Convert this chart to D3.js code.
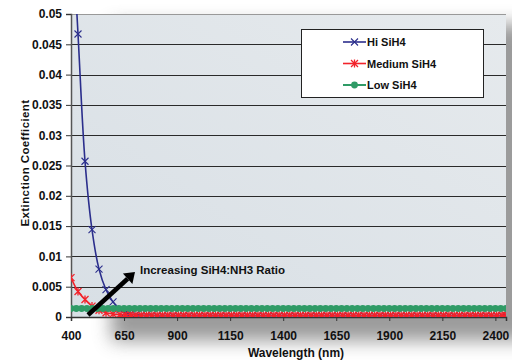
<!DOCTYPE html>
<html>
<head>
<meta charset="utf-8">
<script src="https://cdn.jsdelivr.net/npm/d3@7"></script>
<style>
  body { margin: 0; background: #fff; }
  text { font-family: "Liberation Sans", Arial, sans-serif; font-weight: bold; fill: #111; }
</style>
</head>
<body>
<svg id="chart" width="512" height="360"></svg>
<script>
// Hi and Medium share one wavelength grid, Low is sampled more evenly
const wlHiMed = [400, 433, 466, 499, 532, 565, 598, 631, 656, 681,
  706, 731, 756, 781, 806, 831, 856, 881, 906, 931,
  956, 981, 1006, 1031, 1056, 1081, 1106, 1131, 1156, 1181,
  1206, 1231, 1256, 1281, 1306, 1331, 1356, 1381, 1406, 1431,
  1456, 1481, 1506, 1531, 1556, 1581, 1606, 1631, 1656, 1681,
  1706, 1731, 1756, 1781, 1806, 1831, 1856, 1881, 1906, 1931,
  1956, 1981, 2006, 2031, 2056, 2081, 2106, 2131, 2156, 2181,
  2206, 2231, 2256, 2281, 2306, 2331, 2356, 2381, 2406, 2431, 2450]

const hiSiH4 = [0.068, 0.0467, 0.0257, 0.0144, 0.0079, 0.0045, 0.0025, 0.0012, 0.0007, 0.0005,
  0.0004, 0.0003, 0.0003, 0.0003, 0.0002, 0.0002, 0.0002, 0.0002, 0.0002, 0.0002,
  0.0002, 0.0002, 0.0002, 0.0002, 0.0002, 0.0002, 0.0002, 0.0002, 0.0002, 0.0002,
  0.0002, 0.0002, 0.0002, 0.0002, 0.0002, 0.0002, 0.0002, 0.0002, 0.0002, 0.0002,
  0.0002, 0.0002, 0.0002, 0.0002, 0.0002, 0.0002, 0.0002, 0.0002, 0.0002, 0.0002,
  0.0002, 0.0002, 0.0002, 0.0002, 0.0002, 0.0002, 0.0002, 0.0002, 0.0002, 0.0002,
  0.0002, 0.0002, 0.0002, 0.0002, 0.0002, 0.0002, 0.0002, 0.0002, 0.0002, 0.0002,
  0.0002, 0.0002, 0.0002, 0.0002, 0.0002, 0.0002, 0.0002, 0.0002, 0.0002, 0.0002, 0.0002]

const medSiH4 = [0.0065, 0.0042, 0.0029, 0.0018, 0.0011, 0.0007, 0.0005, 0.0004, 0.0004, 0.0004,
  0.0003, 0.0003, 0.0003, 0.0003, 0.0003, 0.0003, 0.0003, 0.0003, 0.0003, 0.0003,
  0.0003, 0.0003, 0.0003, 0.0003, 0.0003, 0.0003, 0.0003, 0.0003, 0.0003, 0.0003,
  0.0003, 0.0003, 0.0003, 0.0003, 0.0003, 0.0003, 0.0003, 0.0003, 0.0003, 0.0003,
  0.0003, 0.0003, 0.0003, 0.0003, 0.0003, 0.0003, 0.0003, 0.0003, 0.0003, 0.0003,
  0.0003, 0.0003, 0.0003, 0.0003, 0.0003, 0.0003, 0.0003, 0.0003, 0.0003, 0.0003,
  0.0003, 0.0003, 0.0003, 0.0003, 0.0003, 0.0003, 0.0003, 0.0003, 0.0003, 0.0003,
  0.0003, 0.0003, 0.0003, 0.0003, 0.0003, 0.0003, 0.0003, 0.0003, 0.0003, 0.0003, 0.0003]

const wlLow = [400, 425, 450, 475, 500, 525, 550, 575, 600, 625,
  650, 675, 700, 725, 750, 775, 800, 825, 850, 875,
  900, 925, 950, 975, 1000, 1025, 1050, 1075, 1100, 1125,
  1150, 1175, 1200, 1225, 1250, 1275, 1300, 1325, 1350, 1375,
  1400, 1425, 1450, 1475, 1500, 1525, 1550, 1575, 1600, 1625,
  1650, 1675, 1700, 1725, 1750, 1775, 1800, 1825, 1850, 1875,
  1900, 1925, 1950, 1975, 2000, 2025, 2050, 2075, 2100, 2125,
  2150, 2175, 2200, 2225, 2250, 2275, 2300, 2325, 2350, 2375,
  2400, 2425, 2450]

const lowSiH4 = [0.0014, 0.0014, 0.0014, 0.0014, 0.0014, 0.0014, 0.0014, 0.0014, 0.0014, 0.0014,
  0.0014, 0.0014, 0.0014, 0.0014, 0.0014, 0.0014, 0.0014, 0.0014, 0.0014, 0.0014,
  0.0014, 0.0014, 0.0014, 0.0014, 0.0014, 0.0014, 0.0014, 0.0014, 0.0014, 0.0014,
  0.0014, 0.0014, 0.0014, 0.0014, 0.0014, 0.0014, 0.0014, 0.0014, 0.0014, 0.0014,
  0.0014, 0.0014, 0.0014, 0.0014, 0.0014, 0.0014, 0.0014, 0.0014, 0.0014, 0.0014,
  0.0014, 0.0014, 0.0014, 0.0014, 0.0014, 0.0014, 0.0014, 0.0014, 0.0014, 0.0014,
  0.0014, 0.0014, 0.0014, 0.0014, 0.0014, 0.0014, 0.0014, 0.0014, 0.0014, 0.0014,
  0.0014, 0.0014, 0.0014, 0.0014, 0.0014, 0.0014, 0.0014, 0.0014, 0.0014, 0.0014,
  0.0014, 0.0014, 0.0014]

const xTicks = [400, 650, 900, 1150, 1400, 1650, 1900, 2150, 2400]
const yTicks = [0, 0.005, 0.01, 0.015, 0.02, 0.025, 0.03, 0.035, 0.04, 0.045, 0.05]
const seriesNames = ["Hi SiH4", "Medium SiH4", "Low SiH4"]
const seriesColors = ["#2b2e8c", "#f2232b", "#2f9b66"]
const arrowLabel = "Increasing SiH4:NH3 Ratio"

const pLeft = 71, pRight = 506, pTop = 14, pBottom = 317

const svg = d3.select("#chart")
const x = d3.scaleLinear().domain([400, 2450]).range([pLeft, pRight])
const y = d3.scaleLinear().domain([0, 0.05]).range([pBottom, pTop])

const defs = svg.append("defs")
const bg = defs.append("linearGradient").attr("id", "plot-bg")
  .attr("x1", "0%").attr("y1", "100%").attr("x2", "100%").attr("y2", "0%")
bg.append("stop").attr("offset", "0%").attr("stop-color", "#d8dfe5")
bg.append("stop").attr("offset", "100%").attr("stop-color", "#e6eaed")

defs.append("filter").attr("id", "shadow")
  .attr("x", "-20%").attr("y", "-20%").attr("width", "140%").attr("height", "140%")
  .append("feGaussianBlur").attr("stdDeviation", 9)

defs.append("clipPath").attr("id", "clip")
  .append("rect").attr("x", pLeft).attr("y", pTop).attr("width", pRight - pLeft).attr("height", pBottom - pTop)

// drop shadow + plot area
svg.append("rect")
  .attr("x", pLeft + 40).attr("y", pTop + 10)
  .attr("width", pRight - pLeft).attr("height", pBottom - pTop + 14)
  .attr("fill", "#7a7a7a").attr("opacity", 0.75)
  .attr("filter", "url(#shadow)")

svg.append("rect")
  .attr("x", pLeft).attr("y", pTop)
  .attr("width", pRight - pLeft).attr("height", pBottom - pTop)
  .attr("fill", "url(#plot-bg)")

// gridlines
svg.append("g")
  .selectAll("line")
  .data(yTicks.slice(1))
  .join("line")
  .attr("x1", pLeft).attr("x2", pRight)
  .attr("y1", d => Math.round(y(d)) + 0.5).attr("y2", d => Math.round(y(d)) + 0.5)
  .attr("stroke", d => d === 0.05 ? "#999" : "#2a2a2a")
  .attr("stroke-width", 1)

// axes
const yAxis = svg.append("g")
  .attr("transform", `translate(${pLeft},0)`)
  .call(d3.axisLeft(y).tickValues(yTicks).tickSize(5).tickPadding(4).tickFormat(d => String(+d.toFixed(3))))
yAxis.select(".domain").attr("stroke", "#555").attr("stroke-width", 1.5)
yAxis.selectAll(".tick line").attr("stroke", "#333")
yAxis.selectAll("text").style("font-size", "12px").attr("fill", "#111")

const xAxis = svg.append("g")
  .attr("transform", `translate(0,${pBottom})`)
  .call(d3.axisBottom(x).tickValues(xTicks).tickSize(4).tickPadding(10).tickFormat(d3.format("")))
xAxis.select(".domain").attr("stroke", "#333").attr("stroke-width", 1.5)
xAxis.selectAll(".tick line").attr("stroke", "#333")
xAxis.selectAll("text").style("font-size", "12px").attr("fill", "#111")

svg.append("text")
  .attr("x", 296).attr("y", 357)
  .attr("text-anchor", "middle")
  .style("font-size", "12px")
  .text("Wavelength (nm)")

svg.append("text")
  .attr("transform", "translate(29,163) rotate(-90)")
  .attr("text-anchor", "middle")
  .style("font-size", "11.5px")
  .style("letter-spacing", "0.4px")
  .text("Extinction Coefficient")

// marker shapes
function drawMarker(g, kind, color) {
  if (kind === 0) {
    g.append("path").attr("d", "M-3.5,-3.5L3.5,3.5M-3.5,3.5L3.5,-3.5")
      .attr("stroke", color).attr("stroke-width", 1.1).attr("fill", "none")
  } else if (kind === 1) {
    g.append("path").attr("d", "M-3.5,-3.5L3.5,3.5M-3.5,3.5L3.5,-3.5M0,-4L0,4")
      .attr("stroke", color).attr("stroke-width", 1.3).attr("fill", "none")
  } else {
    g.append("circle").attr("r", 3.4).attr("fill", color)
  }
}

const series = [
  { wl: wlHiMed, vals: hiSiH4, width: 1.6 },
  { wl: wlHiMed, vals: medSiH4, width: 1.6 },
  { wl: wlLow, vals: lowSiH4, width: 2 }
]

const line = d3.line().x(d => x(d[0])).y(d => y(d[1])).curve(d3.curveCatmullRom)
const plot = svg.append("g").attr("clip-path", "url(#clip)")

series.forEach((s, i) => {
  const pts = s.wl.map((w, j) => [w, s.vals[j]])
  plot.append("path")
    .attr("d", line(pts))
    .attr("fill", "none")
    .attr("stroke", seriesColors[i])
    .attr("stroke-width", s.width)
  plot.append("g").selectAll("g")
    .data(pts.filter(p => p[1] <= 0.05))
    .join("g")
    .attr("transform", p => `translate(${x(p[0])},${y(p[1])})`)
    .each(function () { drawMarker(d3.select(this), i, seriesColors[i]) })
})

// arrow annotation
const arrowFrom = [88, 315], arrowTo = [135, 272]
const ang = Math.atan2(arrowTo[1] - arrowFrom[1], arrowTo[0] - arrowFrom[0])
const back = 10
const shaftEnd = [arrowTo[0] - back * Math.cos(ang), arrowTo[1] - back * Math.sin(ang)]
svg.append("line")
  .attr("x1", arrowFrom[0]).attr("y1", arrowFrom[1])
  .attr("x2", shaftEnd[0]).attr("y2", shaftEnd[1])
  .attr("stroke", "#000").attr("stroke-width", 4.5)
const hw = 7
svg.append("path")
  .attr("d", `M${arrowTo[0]},${arrowTo[1]}` +
    `L${shaftEnd[0] + hw * Math.sin(ang)},${shaftEnd[1] - hw * Math.cos(ang)}` +
    `L${shaftEnd[0] - hw * Math.sin(ang)},${shaftEnd[1] + hw * Math.cos(ang)}Z`)
  .attr("fill", "#000")

svg.append("text")
  .attr("x", 140).attr("y", 274)
  .style("font-size", "11.5px")
  .text(arrowLabel)

// legend
const legend = svg.append("g")
legend.append("rect")
  .attr("x", 301.5).attr("y", 29.5).attr("width", 182).attr("height", 68)
  .attr("fill", "#fff").attr("stroke", "#222")
seriesNames.forEach((name, i) => {
  const yy = 42 + i * 21.5
  legend.append("line")
    .attr("x1", 343).attr("x2", 366).attr("y1", yy).attr("y2", yy)
    .attr("stroke", seriesColors[i]).attr("stroke-width", i === 2 ? 2 : 1.6)
  drawMarker(legend.append("g").attr("transform", `translate(354.5,${yy})`), i, seriesColors[i])
  legend.append("text")
    .attr("x", 367).attr("y", yy + 4)
    .style("font-size", "11px")
    .text(name)
})
</script>
</body>
</html>
